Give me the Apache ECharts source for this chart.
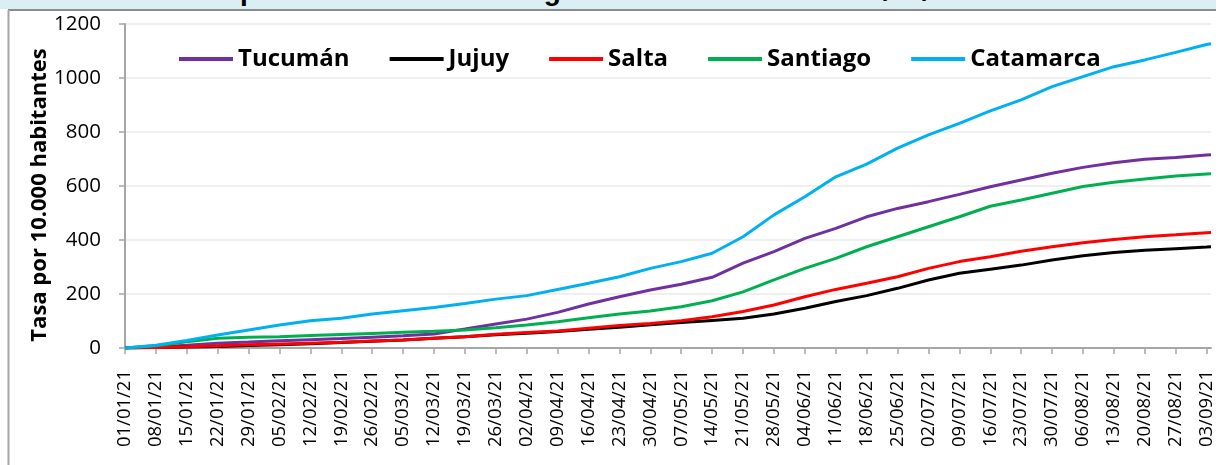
<!DOCTYPE html>
<html>
<head>
<meta charset="utf-8">
<script src="https://cdn.jsdelivr.net/npm/echarts@6/dist/echarts.min.js"></script>
<style>
  body { margin: 0; background: #fff; }
  .band {
    position: absolute; left: 0; top: 0; width: 1216px; height: 9px;
    background: #dbeef4; overflow: hidden; z-index: 2;
  }
  .band span {
    position: absolute; left: 0; width: 1232px; text-align: center; top: -25px;
    font: bold 28px "Liberation Sans", Arial, sans-serif; color: #000; white-space: nowrap;
  }
  #chart { position: absolute; left: 0; top: 0; width: 1219px; height: 465px; }
</style>
</head>
<body>
<div class="band"><span>provincias del NOA. Argentina - Enero hasta el 4/09/2021</span></div>
<div id="chart"></div>
<script>
// dias desde el 01/01/21
const days = [0, 7, 14, 21, 28, 35, 42, 49, 56, 63, 70, 77, 84, 91, 98, 105, 112, 119, 126, 133,
  140, 147, 154, 161, 168, 175, 182, 189, 196, 203, 210, 217, 224, 231, 238, 245, 246]

const dateLabels = ['01/01/21', '08/01/21', '15/01/21', '22/01/21', '29/01/21', '05/02/21', '12/02/21',
  '19/02/21', '26/02/21', '05/03/21', '12/03/21', '19/03/21', '26/03/21', '02/04/21', '09/04/21',
  '16/04/21', '23/04/21', '30/04/21', '07/05/21', '14/05/21', '21/05/21', '28/05/21', '04/06/21',
  '11/06/21', '18/06/21', '25/06/21', '02/07/21', '09/07/21', '16/07/21', '23/07/21', '30/07/21',
  '06/08/21', '13/08/21', '20/08/21', '27/08/21', '03/09/21']

const tucuman = [0, 4, 10, 18, 22, 27, 31, 35, 40, 45, 52, 70, 89, 107, 132, 163, 190, 215, 236, 262,
  314, 357, 406, 443, 486, 517, 542, 569, 597, 622, 647, 669, 686, 699, 706, 715, 716]
const jujuy = [0, 2, 4, 6, 9, 12, 16, 20, 25, 30, 36, 42, 49, 55, 61, 69, 77, 86, 94, 102,
  110, 126, 147, 172, 194, 221, 252, 277, 292, 307, 326, 342, 354, 362, 368, 374, 375]
const salta = [0, 2, 5, 8, 12, 15, 18, 21, 26, 30, 36, 42, 51, 57, 63, 73, 83, 91, 101, 116,
  135, 159, 190, 217, 240, 264, 295, 320, 338, 358, 375, 390, 402, 412, 419, 427, 428]
const santiago = [0, 8, 23, 36, 40, 42, 46, 50, 54, 58, 62, 67, 75, 85, 97, 112, 126, 137, 153, 175,
  208, 252, 295, 332, 375, 412, 449, 486, 525, 548, 573, 598, 614, 626, 637, 644, 645]
const catamarca = [0, 10, 28, 48, 67, 85, 101, 110, 126, 138, 150, 165, 181, 194, 217, 240, 264, 295, 320, 351,
  412, 493, 560, 634, 681, 740, 789, 832, 878, 919, 968, 1005, 1042, 1067, 1095, 1124, 1127]

const provincias = [
  { name: 'Tucumán', color: '#7030a0', values: tucuman },
  { name: 'Jujuy', color: '#000000', values: jujuy },
  { name: 'Salta', color: '#ff0000', values: salta },
  { name: 'Santiago', color: '#00b050', values: santiago },
  { name: 'Catamarca', color: '#00b0f0', values: catamarca }
]

const tickDays = dateLabels.map((d, i) => i * 7)
const font = '"Open Sans", sans-serif'

const myChart = echarts.init(document.getElementById('chart'))
const option = {
  animation: false,
  grid: { left: 125, right: 8, top: 24, bottom: 117 },
  legend: {
    left: 179,
    top: 47,
    padding: 0,
    itemWidth: 54,
    itemHeight: 4,
    itemGap: 40,
    icon: 'rect',
    textStyle: { fontFamily: font, fontWeight: 'bold', fontSize: 24, color: '#000' },
    data: provincias.map(p => p.name)
  },
  xAxis: {
    type: 'value',
    min: 0,
    max: 246,
    axisLine: { lineStyle: { color: '#a6a6a6', width: 2 } },
    axisTick: { length: 6, lineStyle: { color: '#a6a6a6', width: 1.5 }, customValues: tickDays },
    axisLabel: {
      customValues: tickDays,
      rotate: 90,
      margin: 22,
      fontFamily: font,
      fontSize: 18.5,
      color: '#000',
      formatter: v => dateLabels[Math.round(v / 7)] || ''
    },
    splitLine: { show: false }
  },
  yAxis: {
    type: 'value',
    min: 0,
    max: 1200,
    interval: 200,
    axisLine: { show: true, lineStyle: { color: '#a6a6a6', width: 2 } },
    axisTick: { show: true, length: 6, lineStyle: { color: '#a6a6a6', width: 1.5 } },
    axisLabel: { fontFamily: font, fontSize: 20.5, color: '#000', margin: 24, formatter: v => String(v) },
    splitLine: { lineStyle: { color: '#efefef', width: 2 } }
  },
  graphic: [
    { type: 'line', shape: { x1: 8, y1: 10, x2: 1216, y2: 10 }, style: { stroke: '#8c8c8c', lineWidth: 2 } },
    { type: 'line', shape: { x1: 8.5, y1: 10, x2: 8.5, y2: 465 }, style: { stroke: '#a6a6a6', lineWidth: 2 } },
    {
      type: 'text',
      x: 40,
      y: 195,
      rotation: Math.PI / 2,
      style: {
        text: 'Tasa por 10.000 habitantes',
        fontFamily: font,
        fontWeight: 'bold',
        fontSize: 22,
        fill: '#000',
        align: 'center',
        verticalAlign: 'middle'
      }
    }
  ],
  series: provincias.map(p => ({
    name: p.name,
    type: 'line',
    symbol: 'none',
    color: p.color,
    lineStyle: { width: 3, color: p.color },
    data: days.map((d, i) => [d, p.values[i]])
  }))
}
myChart.setOption(option)
window.addEventListener('resize', function () {
  myChart.resize()
})
</script>
</body>
</html>
